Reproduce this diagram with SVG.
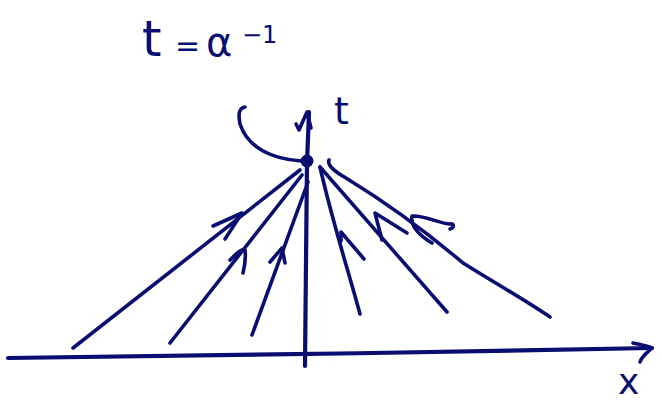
<svg xmlns="http://www.w3.org/2000/svg" width="662" height="402" viewBox="0 0 662 402">
<style>
.s{fill:none;stroke:#090e70;stroke-width:3.6;stroke-linecap:round;stroke-linejoin:round}
.a{stroke-width:4.2}
.t{fill:#090e70;font-family:"DejaVu Sans","Liberation Sans",sans-serif}
</style>
<rect width="662" height="402" fill="#fff"/>
<g id="title">
<text class="t" x="142" y="56" font-size="50">t</text>
<text class="t" x="175" y="56" font-size="30">=</text>
<text class="t" x="206" y="56" font-size="40">α</text>
<text class="t" x="242" y="43" font-size="24">−1</text>
</g>
<g id="axes">
<path class="s a" d="M8,358 C200,356 450,352 652,348"/>
<path class="s" d="M633,343 C642,345 648,346 652,348 C648,352 642,356 640,362"/>
<path class="s a" d="M305,366 C306,300 306,230 307,163 L309,112"/>
<path class="s" d="M296,124 L299,130 L307,112 L311,128"/>
<circle cx="307" cy="161" r="6.5" fill="#090e70"/>
<path class="s" d="M245,107 C239,108 238,114 240,124 C248,148 272,159 301,161"/>
</g>
<g id="labels">
<text class="t" x="334" y="124" font-size="38">t</text>
<text class="t" x="618" y="394" font-size="36">x</text>
</g>
<g id="connectors">
<path class="s" d="M300,170 L73,348"/>
<path class="s" d="M213,226 L242,213 L225,239"/>
<path class="s" d="M302,175 L170,343"/>
<path class="s" d="M230,260 C236,254 242,248 245,250 C246,258 245,265 243,273"/>
<path class="s" d="M308,182 L252,335"/>
<path class="s" d="M270,262 L282,248 L285,263"/>
<path class="s" d="M320,167 C332,220 348,270 360,314"/>
<path class="s" d="M341,241 L341,232 L364,259"/>
<path class="s" d="M320,167 L447,312"/>
<path class="s" d="M382,240 L375,213 L407,233"/>
<path class="s" d="M329,160 C327,165 335,172 346,178 C390,205 430,235 463,263 C495,283 525,300 550,317"/>
<path class="s" d="M432,243 C420,236 410,226 412,216 C425,215 440,224 450,224 C455,223 454,228 450,229"/>
</g>
</svg>
